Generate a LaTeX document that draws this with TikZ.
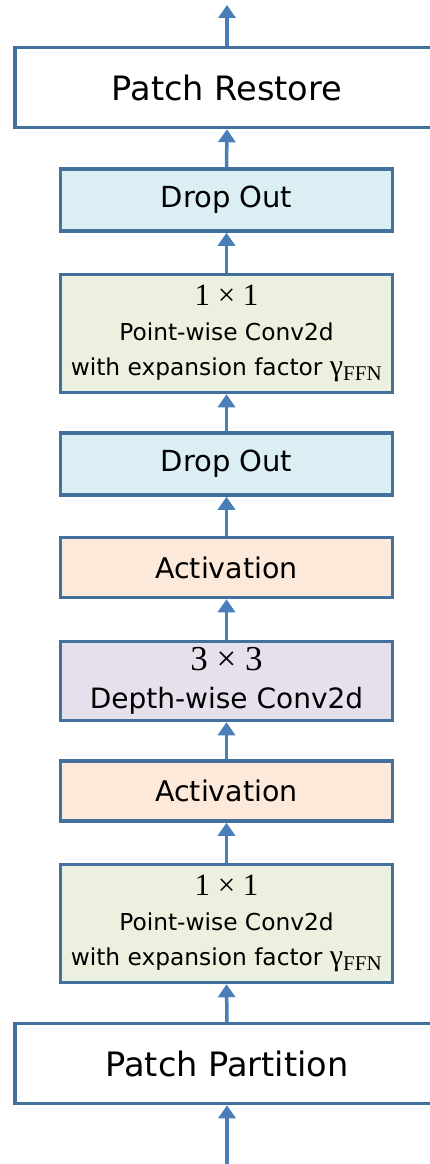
\documentclass[tikz,border=0pt]{standalone}
\usepackage{fontspec}
\setmainfont{DejaVu Sans}
\newfontfamily\mathserif{Liberation Serif}
\usetikzlibrary{arrows.meta}

\definecolor{edgeblue}{HTML}{41719C}
\definecolor{arrowblue}{HTML}{4A7EBB}
\definecolor{dropfill}{HTML}{DAEEF3}
\definecolor{convfill}{HTML}{EBF1DE}
\definecolor{actfill}{HTML}{FDE9D9}
\definecolor{dwfill}{HTML}{E5E0EC}

\tikzset{
  block/.style={draw=edgeblue, line width=3.5pt, align=center, inner sep=0pt,
    minimum width=332pt, text=black},
  patchbox/.style={block, fill=white, minimum width=424pt, minimum height=80pt,
    font=\fontsize{33.6}{38}\selectfont},
  dropbox/.style={block, fill=dropfill, minimum height=62pt,
    font=\fontsize{29}{32}\selectfont},
  actbox/.style={block, fill=actfill, minimum height=60pt,
    font=\fontsize{28.5}{32}\selectfont},
  dwbox/.style={block, fill=dwfill, minimum height=79pt,
    font=\fontsize{28}{38}\selectfont},
  pwbox/.style={block, fill=convfill, minimum height=118pt,
    font=\fontsize{23.3}{35}\selectfont},
  flow/.style={draw=arrowblue, fill=arrowblue, line width=3.5pt,
    -{Triangle[width=17pt,length=13pt]}}
}

\newcommand{\pwtext}{{\mathserif\fontsize{31}{35}\selectfont 1 × 1}\\Point-wise Conv2d\\with expansion factor {\mathserif\fontsize{30}{35}\selectfont γ\textsubscript{FFN}}}

\begin{document}
\begin{tikzpicture}[x=1pt, y=-1pt]
  \useasboundingbox (0,0) rectangle (429,1164);

  % blocks, from the output (top) down to the input (bottom)
  \node[patchbox] (restore)   at (227,87.5)   {Patch Restore};
  \node[dropbox]  (dropB)     at (226.5,200)  {Drop Out};
  \node[pwbox]    (pwB)       at (226.5,333.5) {\pwtext};
  \node[dropbox]  (dropA)     at (226.5,464)  {Drop Out};
  \node[actbox]   (actB)      at (226.5,567.5) {Activation};
  \node[dwbox]    (dw)        at (226.5,681)  {{\mathserif\fontsize{35}{38}\selectfont 3 × 3}\\Depth-wise Conv2d};
  \node[actbox]   (actA)      at (226.5,791)  {Activation};
  \node[pwbox]    (pwA)       at (226.5,923.5) {\pwtext};
  \node[patchbox] (partition) at (227,1063.5) {Patch Partition};

  \coordinate (in)  at (227,1164);
  \coordinate (out) at (227,5);

  % data flow
  \draw[flow] (in) -- (partition.south);
  \draw[flow] (partition.north) -- (pwA.south);
  \draw[flow] (pwA.north) -- (actA.south);
  \draw[flow] (actA.north) -- (dw.south);
  \draw[flow] (dw.north) -- (actB.south);
  \draw[flow] (actB.north) -- (dropA.south);
  \draw[flow] (dropA.north) -- (pwB.south);
  \draw[flow] (pwB.north) -- (dropB.south);
  \draw[flow] (dropB.north) -- (restore.south);
  \draw[flow] (restore.north) -- (out);
\end{tikzpicture}
\end{document}
